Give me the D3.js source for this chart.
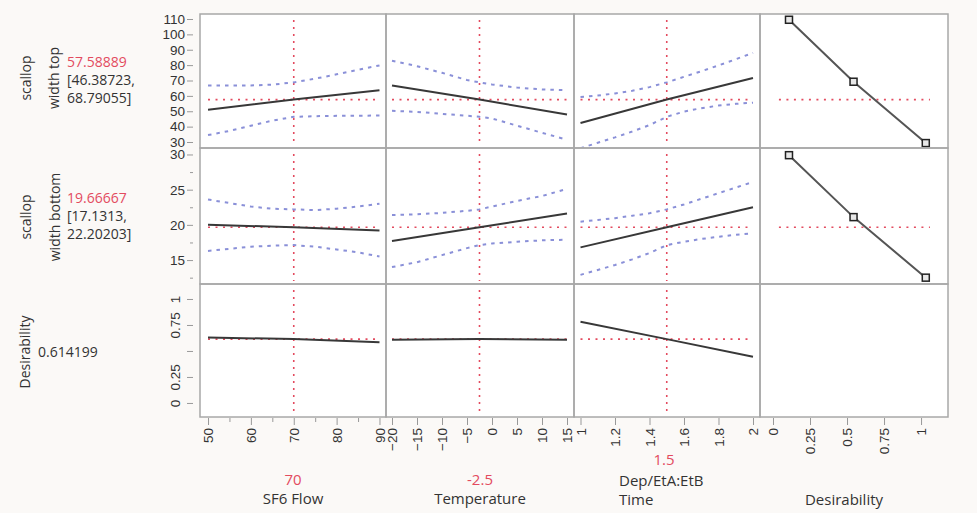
<!DOCTYPE html>
<html><head><meta charset="utf-8">
<script src="https://cdn.jsdelivr.net/npm/d3@7"></script>
<style>
body{margin:0;background:#fbf9f7;}
svg{display:block;font-family:"Open Sans",sans-serif;}
</style></head><body>
<svg id="c" width="977" height="513"></svg>
<script>
// ---------------- data ----------------
const factorNames = ["SF6 Flow", "Temperature", "Time"];
const factorCurrent = [70, -2.5, 1.5];
const factorCurrentLabels = ["70", "-2.5", "1.5"];

// x grids for confidence curves
const sf6X = [50, 55, 60, 65, 70, 75, 80, 85, 90];
const tempX = [-20, -15, -10, -5, -2.5, 0, 5, 10, 15];
const timeX = [1, 1.1, 1.2, 1.3, 1.4, 1.5, 1.6, 1.7, 1.8, 1.9, 2];
// x points for predicted lines
const sf6MeanX = [50, 70, 90];
const tempMeanX = [-20, -2.5, 15];
const timeMeanX = [1, 1.5, 2];

// scallop width top
const topMeanSf6 = [51.0, 57.59, 63.6];
const topUpperSf6 = [66.7, 66.7, 66.8, 67.3, 68.79, 71.2, 74.0, 77.0, 79.8];
const topLowerSf6 = [34.5, 37.2, 40.6, 43.9, 46.39, 46.8, 47.0, 47.1, 47.2];
const topMeanTemp = [66.8, 57.59, 47.9];
const topUpperTemp = [82.9, 79.3, 75.0, 70.3, 68.79, 67.4, 65.4, 64.2, 63.7];
const topLowerTemp = [50.3, 49.6, 48.3, 47.1, 46.39, 45.3, 40.6, 36.0, 31.5];
const topMeanTime = [42.4, 57.59, 71.6];
const topUpperTime = [59.2, 60.2, 61.6, 63.3, 65.7, 68.79, 72.4, 76.0, 79.8, 83.8, 88.0];
const topLowerTime = [26.0, 29.5, 33.0, 36.8, 41.0, 46.39, 49.8, 52.0, 53.7, 54.8, 55.6];

// scallop width bottom
const botMeanSf6 = [20.0, 19.67, 19.2];
const botUpperSf6 = [23.6, 23.1, 22.6, 22.3, 22.2, 22.1, 22.3, 22.6, 23.0];
const botLowerSf6 = [16.3, 16.6, 16.9, 17.05, 17.13, 16.9, 16.5, 16.1, 15.5];
const botMeanTemp = [17.7, 19.67, 21.6];
const botUpperTemp = [21.4, 21.5, 21.7, 22.0, 22.2, 22.6, 23.4, 24.1, 25.1];
const botLowerTemp = [14.0, 14.7, 15.7, 16.7, 17.13, 17.35, 17.6, 17.8, 17.9];
const botMeanTime = [16.8, 19.67, 22.5];
const botUpperTime = [20.45, 20.7, 20.95, 21.3, 21.65, 22.2, 22.9, 23.7, 24.5, 25.3, 26.1];
const botLowerTime = [12.9, 13.6, 14.3, 15.1, 16.0, 17.13, 17.6, 18.0, 18.3, 18.6, 18.8];

// desirability
const desMeanSf6 = [0.63, 0.614, 0.585];
const desMeanTemp = [0.608, 0.614, 0.609];
const desMeanTime = [0.78, 0.614, 0.445];

// desirability functions
const desFnX = [0.108, 0.544, 1.032];
const topDesFnY = [109.5, 69.2, 29.3];
const botDesFnY = [29.9, 21.1, 12.5];

// current predictions
const predValues = [57.58889, 19.66667, 0.614199];
const predLabels = ["57.58889", "19.66667", "0.614199"];
const ciLabels = [["[46.38723,", "68.79055]"], ["[17.1313,", "22.20203]"]];
const responseLabels = [["scallop", "width top"], ["scallop", "width bottom"], ["Desirability"]];

// ticks
const topTicks = [30, 40, 50, 60, 70, 80, 90, 100, 110];
const botTicks = [15, 20, 25, 30];
const botMinorTicks = [12.5, 17.5, 22.5, 27.5];
const desYTicks = [0, 0.25, 0.5, 0.75, 1];
const desYTickLabels = ["0", "0.25", "", "0.75", "1"];
const sf6Ticks = [50, 60, 70, 80, 90];
const sf6MinorTicks = [55, 65, 75, 85];
const tempTicks = [-20, -15, -10, -5, 0, 5, 10, 15];
const timeTicks = [1, 1.2, 1.4, 1.6, 1.8, 2];
const desXTicks = [0, 0.25, 0.5, 0.75, 1];

// ---------------- layout ----------------
const colX = [200, 386, 574, 760, 948];
const rowY = [14, 148, 284, 417];
const RED = "#e34b5f", BLUE = "#8a90d8", TXT = "#333";

const svg = d3.select("#c");

const xScales = [
  d3.scaleLinear().domain([48.13, 91.52]).range([colX[0], colX[1]]),
  d3.scaleLinear().domain([-21.2, 16.4]).range([colX[1], colX[2]]),
  d3.scaleLinear().domain([0.9623, 2.0406]).range([colX[2], colX[3]]),
  d3.scaleLinear().domain([-0.0878, 1.182]).range([colX[3], colX[4]])
];
const yScales = [
  d3.scaleLinear().domain([26.1, 113.25]).range([rowY[1], rowY[0]]),
  d3.scaleLinear().domain([11.6, 30.92]).range([rowY[2], rowY[1]]),
  d3.scaleLinear().domain([-0.135, 1.144]).range([rowY[3], rowY[2]])
];

// panels
for (let r = 0; r < 3; r++) for (let c = 0; c < 4; c++) {
  svg.append("rect").attr("x", colX[c]).attr("y", rowY[r])
    .attr("width", colX[c + 1] - colX[c]).attr("height", rowY[r + 1] - rowY[r])
    .attr("fill", "#fff");
  svg.append("clipPath").attr("id", `cp${r}${c}`).append("rect")
    .attr("x", colX[c]).attr("y", rowY[r])
    .attr("width", colX[c + 1] - colX[c]).attr("height", rowY[r + 1] - rowY[r]);
}

const gridX = [sf6X, tempX, timeX];
const meanXs = [sf6MeanX, tempMeanX, timeMeanX];
const curves = [
  [[topMeanSf6, topUpperSf6, topLowerSf6], [topMeanTemp, topUpperTemp, topLowerTemp], [topMeanTime, topUpperTime, topLowerTime]],
  [[botMeanSf6, botUpperSf6, botLowerSf6], [botMeanTemp, botUpperTemp, botLowerTemp], [botMeanTime, botUpperTime, botLowerTime]],
  [[desMeanSf6, null, null], [desMeanTemp, null, null], [desMeanTime, null, null]]
];

function lineFor(xs, ys, r, c) {
  return d3.line().x((d, i) => xScales[c](xs[i])).y(d => yScales[r](d))(ys);
}

for (let r = 0; r < 3; r++) {
  for (let c = 0; c < 3; c++) {
    const g = svg.append("g").attr("clip-path", `url(#cp${r}${c})`);
    const [mean, up, lo] = curves[r][c];
    const xs = gridX[c];
    // red horizontal
    g.append("line")
      .attr("x1", xScales[c](d3.min(xs))).attr("x2", xScales[c](d3.max(xs)))
      .attr("y1", yScales[r](predValues[r])).attr("y2", yScales[r](predValues[r]))
      .attr("stroke", RED).attr("stroke-width", 1.6).attr("stroke-dasharray", "2,5.5");
    // red vertical
    g.append("line")
      .attr("x1", xScales[c](factorCurrent[c])).attr("x2", xScales[c](factorCurrent[c]))
      .attr("y1", rowY[r] + 6).attr("y2", rowY[r + 1] - 3)
      .attr("stroke", RED).attr("stroke-width", 1.6).attr("stroke-dasharray", "2,5");
    if (up) {
      [up, lo].forEach(arr => {
        g.append("path").attr("d", lineFor(xs, arr, r, c))
          .attr("fill", "none").attr("stroke", BLUE).attr("stroke-width", 2)
          .attr("stroke-dasharray", "3.5,5");
      });
    }
    g.append("path").attr("d", lineFor(meanXs[c], mean, r, c))
      .attr("fill", "none").attr("stroke", "#383838").attr("stroke-width", 2);
  }
  // desirability function column
  if (r < 2) {
    const c = 3;
    const g = svg.append("g").attr("clip-path", `url(#cp${r}${c})`);
    g.append("line")
      .attr("x1", xScales[c](0.04)).attr("x2", xScales[c](1.06))
      .attr("y1", yScales[r](predValues[r])).attr("y2", yScales[r](predValues[r]))
      .attr("stroke", RED).attr("stroke-width", 1.6).attr("stroke-dasharray", "2,5.5");
    const ys = r === 0 ? topDesFnY : botDesFnY;
    g.append("path").attr("d", lineFor(desFnX, ys, r, c))
      .attr("fill", "none").attr("stroke", "#555").attr("stroke-width", 2);
    g.selectAll("rect.sq").data(ys).enter().append("rect")
      .attr("x", (d, i) => xScales[c](desFnX[i]) - 3.5)
      .attr("y", d => yScales[r](d) - 3.5)
      .attr("width", 7).attr("height", 7)
      .attr("fill", "#e8e8e8").attr("stroke", "#222").attr("stroke-width", 1.5);
  }
}

// panel borders
for (let r = 0; r < 3; r++) for (let c = 0; c < 4; c++) {
  svg.append("rect").attr("x", colX[c]).attr("y", rowY[r])
    .attr("width", colX[c + 1] - colX[c]).attr("height", rowY[r + 1] - rowY[r])
    .attr("fill", "none").attr("stroke", "#a8a8a8").attr("stroke-width", 1.5);
}

// ---------------- axes ----------------
function styleAxis(g) {
  g.select(".domain").remove();
  g.selectAll(".tick line").attr("stroke", "#999");
  g.selectAll(".tick text").attr("fill", TXT).style("font-size", "13.5px");
}
const AX = 193;
svg.append("g").attr("transform", `translate(${AX},0)`)
  .call(d3.axisLeft(yScales[0]).tickValues(topTicks).tickSize(6).tickPadding(2).tickFormat(d3.format("d")))
  .call(styleAxis);
svg.append("g").attr("transform", `translate(${AX},0)`)
  .call(d3.axisLeft(yScales[1]).tickValues(botTicks).tickSize(6).tickPadding(2).tickFormat(d3.format("d")))
  .call(styleAxis);
svg.append("g").attr("transform", `translate(${AX},0)`)
  .call(d3.axisLeft(yScales[1]).tickValues(botMinorTicks).tickSize(3).tickFormat(""))
  .call(styleAxis);
svg.append("g").attr("transform", `translate(${AX},0)`)
  .call(d3.axisLeft(yScales[2]).tickValues(desYTicks).tickSize(6)
    .tickFormat((d, i) => desYTickLabels[i]))
  .call(styleAxis)
  .call(g => g.selectAll(".tick text")
    .attr("transform", "rotate(-90)").attr("x", 0).attr("y", -13).attr("dy", 0)
    .style("text-anchor", "middle"));

const AY = 418;
function xAxis(scale, ticks, fmt) {
  svg.append("g").attr("transform", `translate(0,${AY})`)
    .call(d3.axisBottom(scale).tickValues(ticks).tickSize(7).tickFormat(fmt))
    .call(styleAxis)
    .call(g => g.selectAll(".tick text")
      .attr("transform", "rotate(-90)").attr("x", -10).attr("y", 0).attr("dy", "0.35em")
      .style("text-anchor", "end"));
}
xAxis(xScales[0], sf6Ticks, d3.format("d"));
svg.append("g").attr("transform", `translate(0,${AY})`)
  .call(d3.axisBottom(xScales[0]).tickValues(sf6MinorTicks).tickSize(4).tickFormat(""))
  .call(styleAxis);
xAxis(xScales[1], tempTicks, d3.format("d"));
xAxis(xScales[2], timeTicks, d => String(d));
xAxis(xScales[3], desXTicks, d => String(d));

// ---------------- left labels ----------------
const rowMid = [78, 217, 352];
const labelBase = [[31, 59], [31, 60], [30]];
responseLabels.forEach((lines, r) => {
  lines.forEach((t, k) => {
    svg.append("text").attr("transform", `translate(${labelBase[r][k]},${rowMid[r]}) rotate(-90)`)
      .attr("text-anchor", "middle").attr("fill", TXT).style("font-size", "14px").text(t);
  });
});
const predY = [67, 203, 357];
const predX = [67, 67, 38];
predLabels.forEach((t, r) => {
  svg.append("text").attr("x", predX[r]).attr("y", predY[r])
    .attr("fill", r < 2 ? RED : TXT).style("font-size", "14px").text(t);
});
ciLabels.forEach((pair, r) => {
  pair.forEach((t, k) => {
    svg.append("text").attr("x", predX[r]).attr("y", predY[r] + 18 + k * 17.5)
      .attr("fill", TXT).style("font-size", "14px").text(t);
  });
});

// ---------------- bottom labels ----------------
const fs = "15px";
[0, 1].forEach(c => {
  const cx = (colX[c] + colX[c + 1]) / 2;
  svg.append("text").attr("x", cx).attr("y", 485).attr("text-anchor", "middle")
    .attr("fill", RED).style("font-size", fs).text(factorCurrentLabels[c]);
  svg.append("text").attr("x", cx).attr("y", 504).attr("text-anchor", "middle")
    .attr("fill", TXT).style("font-size", fs).text(factorNames[c]);
});
svg.append("text").attr("x", 664).attr("y", 465).attr("text-anchor", "middle")
  .attr("fill", RED).style("font-size", fs).text(factorCurrentLabels[2]);
svg.append("text").attr("x", 619).attr("y", 486)
  .attr("fill", TXT).style("font-size", fs).text("Dep/EtA:EtB");
svg.append("text").attr("x", 619).attr("y", 505)
  .attr("fill", TXT).style("font-size", fs).text(factorNames[2]);
svg.append("text").attr("x", 844).attr("y", 505).attr("text-anchor", "middle")
  .attr("fill", TXT).style("font-size", fs).text("Desirability");
</script>
</body></html>
